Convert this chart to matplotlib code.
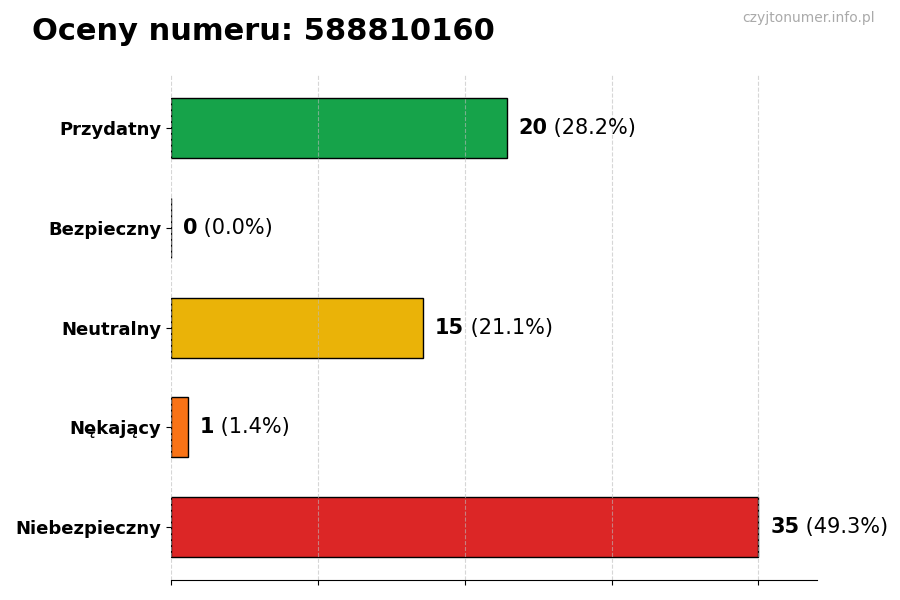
import matplotlib
matplotlib.use("Agg")
import matplotlib.pyplot as plt

categories = ["Przydatny", "Bezpieczny", "Neutralny", "Nękający", "Niebezpieczny"]
values = [20, 0, 15, 1, 35]
colors = ["#16a34a", "#2563eb", "#eab308", "#f97316", "#dc2626"]

total = sum(values)
fig = plt.figure(figsize=(9, 6), dpi=100)
ax = fig.add_axes([0.19, 0.033, 0.718, 0.842])

ypos = list(range(len(categories)))[::-1]
ax.barh(ypos, values, height=0.6, color=colors, edgecolor="black", linewidth=1)
ax.set_yticks(ypos)
ax.set_yticklabels(categories, fontsize=13, fontweight="bold")
ax.set_xlim(0, max(values) * 1.1)
ax.set_xticks([max(values) * i / 4 for i in range(5)])
ax.set_xticklabels([])
ax.grid(axis="x", linestyle="--", color="#bbbbbb", alpha=0.6)
for s in ["top", "right", "left"]:
    ax.spines[s].set_visible(False)

fig.canvas.draw()
renderer = fig.canvas.get_renderer()
off = max(values) * 0.02
for y, v in zip(ypos, values):
    t = ax.text(v + off, y, str(v), va="center", ha="left", fontsize=15, fontweight="bold")
    bb = t.get_window_extent(renderer)
    x2 = ax.transData.inverted().transform((bb.x1, 0))[0]
    ax.text(x2, y, " (%.1f%%)" % (v / total * 100), va="center", ha="left", fontsize=15)

fig.text(0.035, 0.948, "Oceny numeru: 588810160", fontsize=22, fontweight="bold", va="center")
fig.text(0.972, 0.97, "czyjtonumer.info.pl", fontsize=10, color="#aaaaaa", ha="right", va="center")

fig.savefig("out.png", dpi=100)
